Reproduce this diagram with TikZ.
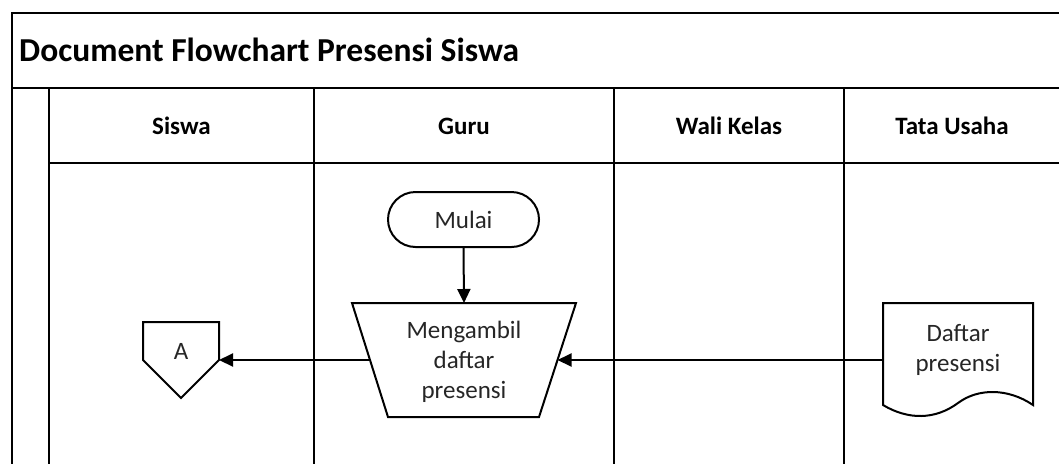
\documentclass[tikz,border=0pt]{standalone}
\usepackage{fontspec}
\setmainfont{Carlito}
\usetikzlibrary{arrows.meta}
\begin{document}
\begin{tikzpicture}[x=1pt,y=-1pt,
  frame/.style={line width=2.3pt},
  outline/.style={draw, line width=2pt, line join=miter},
  flow/.style={line width=2pt, -{Triangle[length=14pt,width=13pt]}},
  lbl/.style={font=\fontsize{25}{30}\selectfont, align=center, inner sep=0pt, text=black!85},
  head/.style={font=\bfseries\fontsize{25}{30}\selectfont, inner sep=0pt, anchor=base},
]
\useasboundingbox (0,0) rectangle (1059,464);

% swimlane frame
\draw[frame] (1059,13) -- (12,13) -- (12,464);
\draw[frame] (12,88) -- (1059,88);
\draw[frame] (49,163) -- (1059,163);
\draw[frame] (49,88) -- (49,464);
\draw[frame] (314,88) -- (314,464);
\draw[frame] (614,88) -- (614,464);
\draw[frame] (844,88) -- (844,464);

% title and lane headings
\node[font=\bfseries\fontsize{33.5}{40}\selectfont, anchor=base west, inner sep=0pt] (title) at (19,61) {Document Flowchart Presensi Siswa};
\node[head] (hSiswa) at (181.5,134) {Siswa};
\node[head] (hGuru) at (464,134) {Guru};
\node[head] (hWali) at (729,134) {Wali Kelas};
\node[head] (hTU) at (952,134) {Tata Usaha};

% start terminal
\node[lbl, outline, rounded corners=27.5pt, minimum width=151pt, minimum height=55pt] (mulai) at (463.5,219.5) {Mulai};

% manual operation (trapezoid)
\draw[outline] (352,303) -- (576,303) -- (539,417) -- (388,417) -- cycle;
\node[lbl] (ambil) at (464,362) {Mengambil\\daftar\\presensi};
\coordinate (ambilN) at (464,303);
\coordinate (ambilE) at (557.5,360);
\coordinate (ambilW) at (370.25,360);

% off-page connector
\draw[outline] (143,322) -- (219,322) -- (219,360) -- (181,398) -- (143,360) -- cycle;
\node[lbl] (conA) at (181,351) {A};
\coordinate (conAE) at (219,360);

% document
\draw[outline] (883,405) -- (883,303) -- (1033,303) -- (1033,405)
  .. controls (1008,388) and (978,388) .. (958,403)
  .. controls (935,420) and (908,420) .. (883,405) -- cycle;
\node[lbl] (daftar) at (958,350) {Daftar\\presensi};
\coordinate (daftarW) at (883,360);

% flow lines
\draw[flow] (mulai.south) -- (ambilN);
\draw[flow] (daftarW) -- (ambilE);
\draw[flow] (ambilW) -- (conAE);
\end{tikzpicture}
\end{document}
